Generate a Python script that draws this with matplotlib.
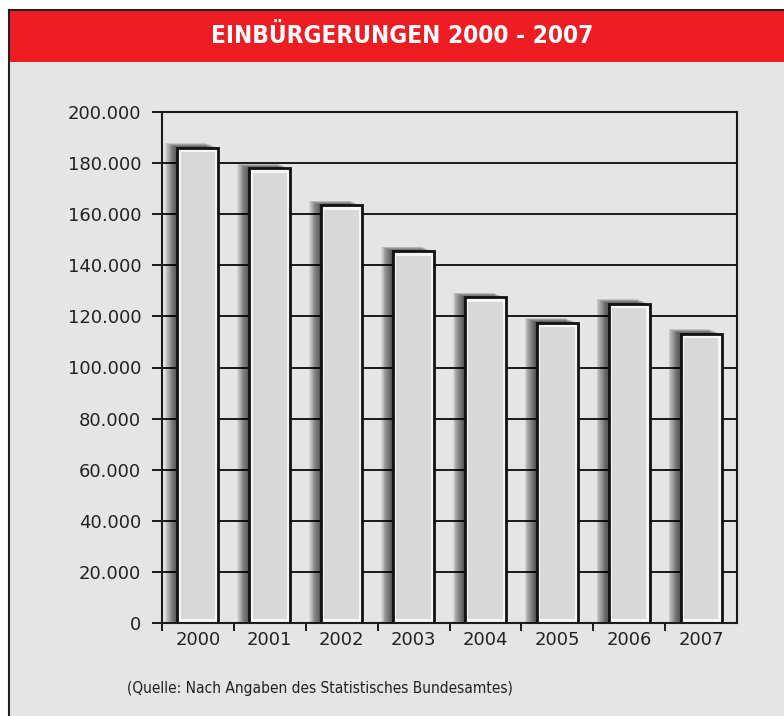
import matplotlib
matplotlib.use("Agg")
import matplotlib.pyplot as plt
from matplotlib.patches import Rectangle
from matplotlib.lines import Line2D
from matplotlib.ticker import FuncFormatter, FixedLocator

years = ["2000", "2001", "2002", "2003", "2004", "2005", "2006", "2007"]
einbuergerungen = [186000, 178000, 163500, 145500, 127500, 117500, 125000, 113200]
y_ticks = [0, 20000, 40000, 60000, 80000, 100000, 120000, 140000, 160000, 180000, 200000]

TITLE = "EINBÜRGERUNGEN 2000 - 2007"
SOURCE = "(Quelle: Nach Angaben des Statistisches Bundesamtes)"

W, H = 784, 716
fig = plt.figure(figsize=(W / 100, H / 100), dpi=100)
fig.patch.set_facecolor("white")

# panel background, red header, black border
fig.patches.append(Rectangle((8 / W, 0), 1, (H - 10) / H, transform=fig.transFigure,
                             facecolor="#e5e5e5", edgecolor="none", zorder=0))
fig.patches.append(Rectangle((8 / W, (H - 62) / H), 1, 52 / H, transform=fig.transFigure,
                             facecolor="#ee1d24", edgecolor="none", zorder=1))
fig.lines.append(Line2D([9 / W, 9 / W], [0, (H - 10) / H], transform=fig.transFigure,
                        color="#222222", lw=1.5, zorder=2))
fig.lines.append(Line2D([9 / W, 1], [(H - 10) / H, (H - 10) / H], transform=fig.transFigure,
                        color="#222222", lw=1.5, zorder=2))
fig.text(402 / W, (H - 36) / H, TITLE, ha="center", va="center", color="white",
         fontsize=17.5, fontweight="bold", fontstretch="condensed", family="DejaVu Sans")
fig.text(127 / W, (H - 688) / H, SOURCE, ha="left", va="center", color="#222222",
         fontsize=11.1, fontstretch="condensed", family="DejaVu Sans")

ax = fig.add_axes([162 / W, (H - 623) / H, (737 - 162) / W, (623 - 112) / H], zorder=5)
ax.set_facecolor("none")
x = list(range(len(years)))
ax.set_xlim(-0.5, len(years) - 0.5)
ax.set_ylim(0, 200000)

# grid
for v in y_ticks[1:]:
    ax.axhline(v, color="#1a1a1a", lw=1.4, zorder=1)

# soft shadow on the left of every bar (stacked translucent copies)
bw = 0.57
n_sh = 14
for k in range(n_sh):
    off = (k + 1) * 0.012
    ax.bar([xi - off for xi in x], [v + (k + 1) * 130 for v in einbuergerungen],
           width=bw, color="black", alpha=0.065, lw=0, zorder=2)

# bars: white rim + grey fill + black outline
ax.bar(x, einbuergerungen, width=bw, color="#f6f6f6", edgecolor="#111111", lw=2, zorder=3)
ax.bar(x, [v - 3200 for v in einbuergerungen], bottom=1400, width=bw - 0.09,
       color="#d9d9d9", lw=0, zorder=4)

for s in ["left", "bottom", "right", "top"]:
    ax.spines[s].set_color("#1a1a1a")
    ax.spines[s].set_linewidth(1.5)
    ax.spines[s].set_zorder(5)

ax.yaxis.set_major_locator(FixedLocator(y_ticks))
ax.yaxis.set_major_formatter(FuncFormatter(
    lambda v, p: "0" if v == 0 else f"{int(v):,}".replace(",", ".")))
ax.tick_params(axis="y", length=7, width=1.4, color="#1a1a1a", labelsize=13,
               labelcolor="#222222", pad=8)

ax.set_xticks(x)
ax.set_xticklabels(years)
ax.xaxis.set_minor_locator(FixedLocator([-0.5 + i for i in range(len(years))]))
ax.tick_params(axis="x", which="major", length=0, labelsize=13, labelcolor="#222222", pad=6)
ax.tick_params(axis="x", which="minor", length=6, width=1.4, color="#1a1a1a")

fig.savefig("out.png", dpi=100, facecolor=fig.get_facecolor())
